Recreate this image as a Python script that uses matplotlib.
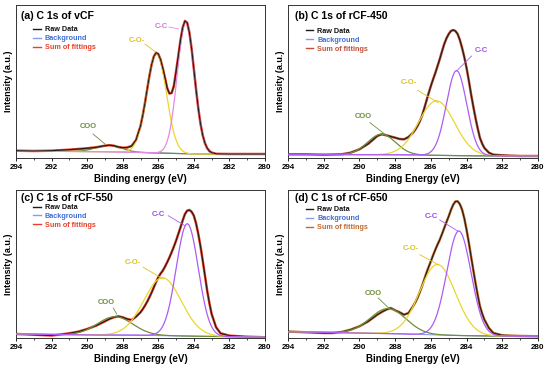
import numpy as np
import matplotlib
matplotlib.use('Agg')
import matplotlib.pyplot as plt
from matplotlib.lines import Line2D

plt.rcParams['font.family'] = ['Liberation Sans', 'DejaVu Sans']
plt.rcParams['font.weight'] = 'bold'

# ---------------- data ----------------
energy = [294, 293, 292, 291.5, 291, 290.5, 290, 289.5, 289, 288.75, 288.5, 288.25, 288,
          287.75, 287.5, 287.25,
          287, 286.875, 286.75, 286.625, 286.5, 286.375, 286.25, 286.125, 286, 285.875,
          285.75, 285.625, 285.5, 285.375, 285.25, 285.125, 285, 284.875, 284.75, 284.625,
          284.5, 284.375, 284.25, 284.125, 284, 283.875, 283.75, 283.625, 283.5, 283.375,
          283.25, 283.125, 283,
          282.75, 282.5, 282, 281, 280]

raw_a = [7.3, 7, 7.3, 7.8, 8.3, 9, 9.7, 10.7, 12.3, 12.8, 12.3, 11, 10.3, 10.5, 12, 18,
         32, 42.6, 55, 68.7, 82, 93.5, 101.6, 105.3, 104, 98.5, 90, 80.3, 70, 64.5, 65,
         72, 86.5, 102, 118, 130.5, 137, 135.3, 125.4, 109.2, 89, 68.4, 49.6, 34.1, 22.6,
         14.7, 9.8, 6.9, 5.4,
         4.2, 4.1, 4, 4, 4]
raw_b = [3.7, 3.7, 3.3, 3.5, 3.7, 5.3, 8.7, 14.3, 22, 23.7, 22.7, 21.5, 20.3, 19, 18.7, 21,
         25.3, 28.3, 32, 36.5, 42, 49.3, 57, 64.7, 72, 78.7, 85, 92, 99, 106.7, 114, 119.7,
         124, 127, 128, 127, 124, 118, 110, 100.7, 90, 77.5, 64, 51.7, 40, 29.5, 20, 14.3, 10,
         5.3, 3.3, 2.7, 2, 2]
raw_c = [4, 3.3, 2.5, 3.5, 4.7, 6.3, 9, 12.3, 16.7, 19, 20.7, 21.7, 20.7, 19, 18, 21.3,
         25.7, 28.8, 32.3, 36.3, 40.7, 45.5, 50.7, 56, 60.7, 64.3, 67.3, 71.3, 75.7, 80.5,
         85.7, 91.3, 97.3, 104, 110.7, 117.7, 124, 127.3, 128, 126.2, 122.3, 114.5, 104,
         91.5, 77.3, 62.3, 47.3, 34.7, 24,
         10.7, 4.7, 2.3, 1.3, 0.7]
raw_d = [6.5, 5.7, 5, 5, 6, 8.3, 11.7, 16.7, 23.3, 26, 28.3, 30, 27.7, 25.7, 23.3, 25,
         31.7, 35.5, 40, 45.5, 51.7, 58.3, 65, 71, 76.7, 82.7, 88.3, 93.5, 98.3, 104, 110,
         116, 121.7, 128, 133.3, 136.5, 136.7, 133.8, 128.3, 119.5, 108.3, 95.5, 81.7, 68.2,
         55, 42.7, 31.7, 24.3, 18.3,
         10, 5, 2.7, 2, 1.7]

bg_energy = [294, 290, 288, 286, 284, 282, 280]
bg_a = [7, 6.5, 6, 5, 4, 4, 4]
bg_b = [3.5, 3.4, 3.2, 2.8, 2.2, 2, 2]
bg_c = [4, 3, 3, 2.5, 1.8, 1.3, 1]
bg_d = [6.3, 5, 4.3, 3.2, 2.3, 1.8, 1.7]

component_names = ['COO', 'C-O-', 'C-C']
centers_a = [288.8, 286.1, 284.45]
heights_a = [6.5, 100, 132]
sigmas_a = [0.7, 0.55, 0.48]
centers_b = [288.76, 285.68, 284.56]
heights_b = [20.5, 54.5, 85]
sigmas_b = [0.78, 1.0, 0.57]
centers_c = [288.44, 285.76, 284.37]
heights_c = [18.3, 57.8, 112.3]
sigmas_c = [1.0, 1.05, 0.62]
centers_d = [288.39, 285.63, 284.43]
heights_d = [25, 70.5, 104.5]
sigmas_d = [1.0, 1.0, 0.68]

titles = ['(a) C 1s of vCF', '(b) C 1s of rCF-450', '(c) C 1s of rCF-550', '(d) C 1s of rCF-650']
xlabels = ['Binding energy (eV)', 'Binding Energy (eV)', 'Binding Energy (eV)', 'Binding Energy (eV)']
ylabel = 'Intensity (a.u.)'
legend_labels = ['Raw Data', 'Background', 'Sum of fittings']
xticks = [294, 292, 290, 288, 286, 284, 282, 280]

# ---------------- layout / style ----------------
W, H = 550, 369
rects = [(16, 5, 265, 158), (288, 5, 538, 158), (16, 190, 265, 338), (288, 190, 538, 338)]
panels = [
    dict(raw=raw_a, bg=bg_a, c=centers_a, h=heights_a, s=sigmas_a, cc='#e48ae4', cct='#d873d8',
         sumcol='#e8402a', comp_z=2.5,
         ann=[((289.95, 31), (289.67, 24), (289.0, 14)),
              ((287.2, 117), (286.75, 114), (286.15, 106)),
              ((285.85, 131), (285.4, 131), (284.85, 129))],
         title_xy=(0.02, 0.93), leg_y=0.86),
    dict(raw=raw_b, bg=bg_b, c=centers_b, h=heights_b, s=sigmas_b, cc='#ad5cf5', cct='#a050f0',
         sumcol='#c0503a', comp_z=4,
         ann=[((289.78, 42), (289.41, 35.3), (288.57, 23.7)),
              ((287.23, 75.3), (286.74, 67.7), (285.59, 55.3)),
              ((283.16, 107.7), (283.72, 102), (284.56, 87))],
         title_xy=(0.028, 0.93), leg_y=0.85),
    dict(raw=raw_c, bg=bg_c, c=centers_c, h=heights_c, s=sigmas_c, cc='#ad5cf5', cct='#9a48f0',
         sumcol='#e8402a', comp_z=4,
         ann=[((288.9, 35.7), (288.53, 30), (288.34, 24)),
              ((287.41, 75.7), (286.85, 70.7), (285.72, 59)),
              ((286.0, 124), (285.44, 122.3), (284.5, 112.3))],
         title_xy=(0.022, 0.945), leg_y=0.905),
    dict(raw=raw_d, bg=bg_d, c=centers_d, h=heights_d, s=sigmas_d, cc='#ad5cf5', cct='#9a48f0',
         sumcol='#c06a30', comp_z=4,
         ann=[((289.23, 44.3), (288.95, 40), (288.3, 29)),
              ((287.12, 89), (286.62, 83.3), (285.59, 73.3)),
              ((285.96, 121.7), (285.5, 118), (284.47, 106.7))],
         title_xy=(0.028, 0.945), leg_y=0.89),
]
coo_col = '#6e8f3c'
co_col = '#ead631'
co_txt = '#dcc21e'
bg_col = '#8a9ae6'
raw_col = '#231a14'

fig = plt.figure(figsize=(W / 100, H / 100), dpi=100)
E = np.linspace(294, 280, 701)

for i, (p, r) in enumerate(zip(panels, rects)):
    x0, y0, x1, y1 = r
    ax = fig.add_axes([x0 / W, 1 - y1 / H, (x1 - x0) / W, (y1 - y0) / H])
    ymax = y1 - y0
    bgline = np.interp(E, bg_energy[::-1], p['bg'][::-1])
    ax.plot(E, bgline, color=bg_col, lw=0.8, zorder=0.5)
    cols = [coo_col, co_col, p['cc']]
    for k in range(3):
        comp = bgline + p['h'][k] * np.exp(-(E - p['c'][k]) ** 2 / (2 * p['s'][k] ** 2))
        ax.plot(E, comp, color=cols[k], lw=0.9, zorder=p['comp_z'])
    ax.plot(energy, p['raw'], color=p['sumcol'], lw=1.8, zorder=2)
    ax.plot(energy, p['raw'], color=raw_col, lw=0.8, zorder=3)

    tcols = [coo_col, co_txt, p['cct']]
    for k, (txy, l0, l1) in enumerate(p['ann']):
        ax.text(txy[0], txy[1], component_names[k], color=tcols[k], fontsize=5.5,
                fontweight='bold', ha='center', va='center', zorder=6)
        ax.plot([l0[0], l1[0]], [l0[1], l1[1]], color=cols[k] if k != 1 else co_txt,
                lw=0.6, zorder=6)

    ax.set_xlim(294, 280)
    ax.set_ylim(0, ymax)
    ax.set_xticks(xticks)
    ax.set_xticks(np.arange(280, 295, 1), minor=True)
    ax.set_xticklabels([str(t) for t in xticks], fontsize=5.8, fontweight='bold')
    ax.set_yticks([])
    ax.tick_params(axis='x', which='major', length=2.5, width=0.6, pad=2, direction='out')
    ax.tick_params(axis='x', which='minor', length=1.5, width=0.5, direction='out')
    for s in ax.spines.values():
        s.set_linewidth(0.7)
        s.set_color('#333333')
    ax.set_xlabel(xlabels[i], fontsize=7, fontweight='bold', labelpad=2)
    ax.set_ylabel(ylabel, fontsize=6.5, fontweight='bold', labelpad=2)
    ax.text(p['title_xy'][0], p['title_xy'][1], titles[i], transform=ax.transAxes,
            fontsize=7.6, fontweight='bold', ha='left', va='center')
    handles = [Line2D([], [], color=raw_col, lw=1),
               Line2D([], [], color=bg_col, lw=1),
               Line2D([], [], color=p['sumcol'], lw=1)]
    ax.legend(handles, legend_labels, loc='upper left', bbox_to_anchor=(0.07, p['leg_y']),
              frameon=False, handlelength=1.0, handletextpad=0.6,
              labelspacing=0.25, borderpad=0, borderaxespad=0,
              labelcolor=['#111111', '#3f6fd6', p['sumcol']],
              prop={'weight': 'bold', 'size': 5.2})

fig.savefig('out.png', dpi=100)
